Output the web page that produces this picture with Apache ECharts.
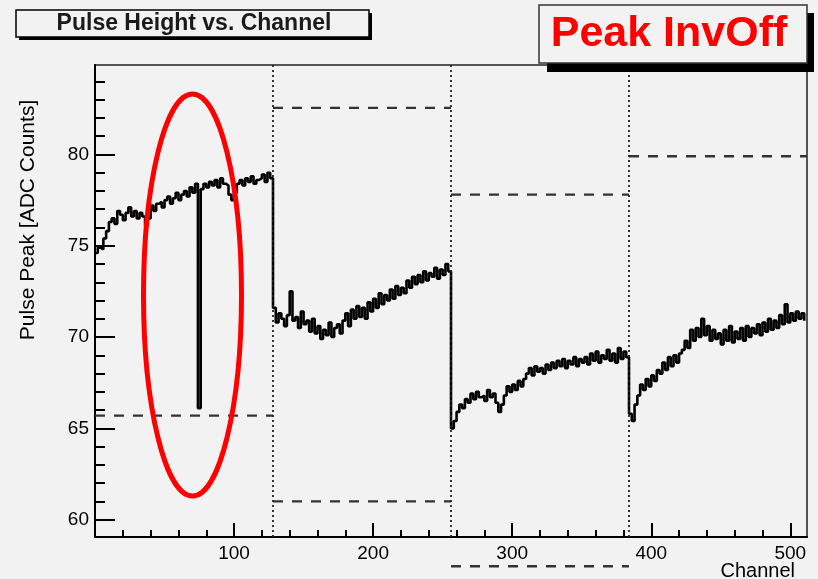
<!DOCTYPE html>
<html lang="en">
<head>
<meta charset="UTF-8">
<title>Pulse Height vs. Channel</title>
<script src="https://cdn.jsdelivr.net/npm/echarts@6.0.0/dist/echarts.min.js"></script>
<style>
  html, body { margin: 0; padding: 0; background: #f2f2f2; }
  #chart { width: 818px; height: 579px; }
</style>
</head>
<body>
<div id="chart"></div>
<script>
// pulse peak, every 2nd channel
const channelStep = 2;
// channels 0..126
const peakSeg1 = [74.6, 74.9, 74.8, 75.4, 75.8, 76.3, 76.5, 76.2, 76.9, 76.7, 76.4, 76.8, 77.1, 76.6, 76.9, 76.5,
  76.8, 76.6, 76.1, 76.5, 77.2, 76.9, 77.3, 77.4, 77.1, 77.5, 77.7, 77.3, 77.6, 77.9, 77.5, 77.8,
  78.0, 77.7, 78.2, 77.9, 78.4, 66.1, 78.1, 78.4, 78.2, 78.5, 78.3, 78.6, 78.2, 78.7, 78.4, 78.3,
  77.8, 77.5, 77.9, 78.4, 78.6, 78.3, 78.7, 78.5, 78.8, 78.4, 78.6, 78.7, 78.9, 78.5, 79.0, 78.7];
// channels 128..254
const peakSeg2 = [71.6, 70.8, 71.3, 71.0, 70.6, 71.2, 72.5, 70.9, 71.1, 70.5, 71.4, 70.7, 70.9, 70.3, 71.0, 70.2,
  70.6, 69.9, 70.4, 70.1, 70.8, 70.0, 70.5, 70.7, 70.2, 70.9, 71.3, 70.6, 71.5, 71.0, 71.7, 71.1,
  71.6, 71.0, 71.9, 71.4, 72.1, 71.6, 72.4, 71.8, 72.3, 72.0, 72.6, 72.1, 72.8, 72.3, 72.7, 72.4,
  73.1, 72.7, 73.3, 72.9, 73.4, 73.0, 73.6, 73.1, 73.5, 73.3, 73.8, 73.2, 73.7, 73.4, 74.0, 73.6];
// channels 256..382
const peakSeg3 = [65.0, 65.4, 65.9, 66.3, 66.1, 66.6, 66.4, 66.9, 66.6, 67.0, 66.7, 66.8, 66.5, 67.1, 66.7, 66.9,
  66.4, 65.9, 66.3, 66.8, 67.3, 67.0, 67.4, 67.1, 67.6, 67.3, 67.7, 68.0, 68.3, 67.9, 68.4, 68.1,
  68.3, 68.0, 68.5, 68.2, 68.6, 68.3, 68.7, 68.4, 68.8, 68.3, 68.7, 68.5, 68.9, 68.4, 68.8, 68.6,
  68.9, 68.5, 69.1, 68.7, 69.2, 68.6, 69.0, 68.8, 69.3, 68.7, 69.1, 68.6, 69.4, 68.8, 69.2, 68.9];
// channels 384..510
const peakSeg4 = [65.8, 65.4, 66.3, 66.8, 67.4, 67.1, 67.7, 67.3, 67.9, 67.6, 68.2, 68.0, 68.6, 68.2, 68.9, 68.4,
  69.0, 68.6, 69.1, 69.3, 69.8, 69.4, 70.4, 69.8, 70.5, 70.0, 71.0, 70.1, 70.6, 69.8, 70.4, 69.9,
  70.2, 69.6, 70.4, 69.8, 70.6, 69.7, 70.3, 69.9, 70.5, 69.8, 70.6, 70.0, 70.5, 70.2, 70.7, 70.1,
  70.8, 70.3, 71.0, 70.4, 70.9, 70.5, 71.2, 70.7, 71.8, 70.8, 71.3, 70.9, 71.4, 71.0, 71.3, 70.9];

const peaks = peakSeg1.concat(peakSeg2, peakSeg3, peakSeg4);

// chip boundaries (dotted) and reference levels (dashed): [from, to, level]
const boundaries = [128, 256, 384];
const refLevels = [
  [0, 128, 65.7],
  [128, 256, 82.55], [128, 256, 61.0],
  [256, 384, 77.8], [256, 384, 57.45],
  [384, 512, 79.9]
];

const xTicks = [100, 200, 300, 400, 500];
const xMinorTicks = [20, 40, 60, 80, 120, 140, 160, 180, 220, 240, 260, 280, 320, 340, 360, 380, 420, 440, 460, 480];
const yTicks = [60, 65, 70, 75, 80];
const yMinorTicks = [60, 61, 62, 63, 64, 65, 66, 67, 68, 69, 70, 71, 72, 73, 74, 75, 76, 77, 78, 79, 80, 81, 82, 83, 84];

const FONT = "'Liberation Sans', Arial, sans-serif";

let chart = echarts.init(document.getElementById('chart'));

let levelSeries = refLevels.map(function (r) {
  return {
    type: 'line',
    data: [[r[0], r[2]], [r[1], r[2]]],
    showSymbol: false,
    clip: false,
    silent: true,
    lineStyle: { color: '#333', width: 2.4, type: [10, 9] },
    z: 3
  };
});

let option = {
  animation: false,
  backgroundColor: '#f2f2f2',
  grid: {
    left: 95, right: 11, top: 65, bottom: 42,
    show: true, borderColor: '#555', borderWidth: 2,
    outerBoundsMode: 'none'
  },
  xAxis: [
    {
      type: 'value', min: 0, max: 512,
      axisLine: { lineStyle: { color: '#000', width: 2 } },
      axisTick: { inside: true, length: 14, customValues: xTicks, lineStyle: { color: '#000', width: 2 } },
      axisLabel: { customValues: xTicks, margin: 7, fontSize: 19, color: '#000', fontFamily: FONT },
      splitLine: { show: false }
    },
    {
      type: 'value', min: 0, max: 512, position: 'bottom',
      axisLine: { show: false },
      axisTick: { inside: true, length: 7, customValues: xMinorTicks, lineStyle: { color: '#000', width: 2 } },
      axisLabel: { show: false },
      splitLine: { show: false }
    }
  ],
  yAxis: [
    {
      type: 'value', min: 59.05, max: 84.9,
      axisLine: { show: true, lineStyle: { color: '#000', width: 2 } },
      axisTick: { show: true, inside: true, length: 20, customValues: yTicks, lineStyle: { color: '#000', width: 2 } },
      axisLabel: { customValues: yTicks, margin: 6, fontSize: 19, color: '#000', fontFamily: FONT },
      splitLine: { show: false }
    },
    {
      type: 'value', min: 59.05, max: 84.9, position: 'left',
      axisLine: { show: false },
      axisTick: { show: true, inside: true, length: 10, customValues: yMinorTicks, lineStyle: { color: '#000', width: 2 } },
      axisLabel: { show: false },
      splitLine: { show: false }
    }
  ],
  series: [
    {
      type: 'line',
      data: peaks.map((v, i) => [i * channelStep, v]),
      step: 'end',
      showSymbol: false,
      silent: true,
      lineStyle: { color: '#000', width: 2.6 },
      z: 4,
      markLine: {
        silent: true,
        symbol: 'none',
        label: { show: false },
        lineStyle: { color: '#222', width: 1.8, type: [2, 3] },
        data: boundaries.map(b => ({ xAxis: b }))
      }
    }
  ].concat(levelSeries),
  graphic: [
    // red ellipse annotation
    { type: 'ellipse', z: 50, shape: { cx: 192.5, cy: 295, rx: 49, ry: 201 },
      style: { fill: 'none', stroke: '#f00', lineWidth: 5 } },
    // title box
    { type: 'rect', z: 60, shape: { x: 19, y: 13, width: 353, height: 27 }, style: { fill: '#000' } },
    { type: 'rect', z: 61, shape: { x: 16, y: 10, width: 353, height: 27 },
      style: { fill: '#f2f2f2', stroke: '#000', lineWidth: 1.5 } },
    { type: 'text', z: 62, x: 194, y: 24,
      style: { text: 'Pulse Height vs. Channel', font: 'bold 23px ' + FONT, fill: '#1a1a1a',
        align: 'center', verticalAlign: 'middle' } },
    // label box
    { type: 'rect', z: 60, shape: { x: 547, y: 13, width: 267, height: 59 }, style: { fill: '#000' } },
    { type: 'rect', z: 61, shape: { x: 539, y: 5, width: 268, height: 58 },
      style: { fill: '#f2f2f2', stroke: '#333', lineWidth: 1.5 } },
    { type: 'text', z: 62, x: 669, y: 34,
      style: { text: 'Peak InvOff', font: 'bold 43px ' + FONT, fill: '#f00',
        align: 'center', verticalAlign: 'middle' } },
    // axis titles
    { type: 'text', z: 62, x: 28, y: 220, rotation: Math.PI / 2,
      style: { text: 'Pulse Peak [ADC Counts]', font: '21px ' + FONT, fill: '#000',
        align: 'center', verticalAlign: 'middle' } },
    { type: 'text', z: 62, x: 795, y: 571,
      style: { text: 'Channel', font: '20px ' + FONT, fill: '#000',
        align: 'right', verticalAlign: 'middle' } }
  ]
};

chart.setOption(option);
</script>
</body>
</html>
